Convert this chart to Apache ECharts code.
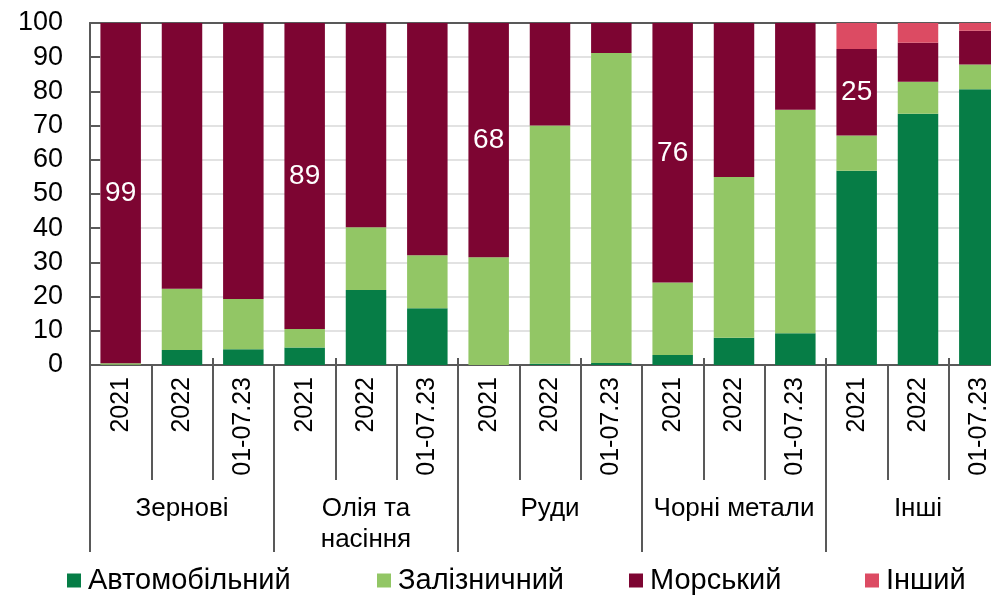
<!DOCTYPE html>
<html>
<head>
<meta charset="utf-8">
<script src="https://cdn.jsdelivr.net/npm/echarts@6/dist/echarts.min.js"></script>
<style>
  html, body { margin: 0; padding: 0; background: #fff; }
  #chart { width: 991px; height: 595px; }
</style>
</head>
<body>
<div id="chart"></div>
<script>
// periods per bar and the cargo groups below them
const periods = ['2021', '2022', '01-07.23', '2021', '2022', '01-07.23', '2021', '2022', '01-07.23',
  '2021', '2022', '01-07.23', '2021', '2022', '01-07.23']
const groups = ['Зернові', 'Олія та\nнасіння', 'Руди', 'Чорні метали', 'Інші']
const yTicks = [0, 10, 20, 30, 40, 50, 60, 70, 80, 90, 100]

// shares by transport type, %
const auto = [0.1, 4.4, 4.6, 5.1, 21.9, 16.6, 0, 0.4, 0.6, 2.9, 8.0, 9.3, 56.8, 73.5, 80.6]
const rail = [0.4, 17.9, 14.7, 5.4, 18.4, 15.5, 31.5, 69.6, 90.6, 21.2, 47.0, 65.3, 10.3, 9.3, 7.3]
const sea = [99.5, 77.7, 80.7, 89.5, 59.7, 67.9, 68.5, 30.0, 8.8, 75.9, 45.0, 25.4, 25.3, 11.4, 9.8]
const other = [0, 0, 0, 0, 0, 0, 0, 0, 0, 0, 0, 0, 7.6, 5.8, 2.3]
const seaLabels = [99, null, null, 89, null, null, 68, null, null, 76, null, null, 25, null, null]

const names = ['Автомобільний', 'Залізничний', 'Морський', 'Інший']
const colors = ['#067D46', '#92C665', '#7D0532', '#DC4B63']

const font = 'Liberation Sans, Arial, sans-serif'
const axisColor = '#595959'

const chart = echarts.init(document.getElementById('chart'), null, { renderer: 'canvas' })

const legendLeft = [67, 377, 629, 865]

function makeSeries(i, data) {
  const s = {
    name: names[i],
    type: 'bar',
    stack: 'total',
    xAxisIndex: 0,
    barCategoryGap: '34%',
    itemStyle: { color: colors[i] },
    data: data,
    animation: false
  }
  if (i === 2) {
    s.label = {
      show: true,
      position: 'inside',
      color: '#fff',
      fontFamily: font,
      fontSize: 28,
      formatter: p => (seaLabels[p.dataIndex] == null ? '' : String(seaLabels[p.dataIndex]))
    }
  }
  return s
}

chart.setOption({
  animation: false,
  textStyle: { fontFamily: font },
  grid: { left: 90, top: 23, width: 920, height: 342, containLabel: false, outerBoundsMode: 'none' },
  legend: names.map((n, i) => ({
    data: [n],
    left: legendLeft[i],
    top: 566,
    icon: 'rect',
    itemWidth: 14,
    itemHeight: 14,
    itemGap: 0,
    padding: 0,
    textStyle: { fontFamily: font, fontSize: 29, color: '#000', padding: [0, 0, 0, 2] },
    selectedMode: false
  })),
  xAxis: [
    {
      type: 'category',
      data: periods,
      position: 'bottom',
      axisLine: { lineStyle: { color: axisColor, width: 2 } },
      axisTick: { show: true, length: 115, lineStyle: { color: axisColor, width: 2 } },
      axisLabel: {
        interval: 0,
        rotate: 90,
        margin: 12,
        fontSize: 25,
        color: '#000',
        fontFamily: font
      }
    },
    {
      type: 'category',
      data: groups,
      position: 'bottom',
      offset: 115,
      axisLine: { show: false },
      axisTick: { show: true, length: 72, lineStyle: { color: axisColor, width: 2 } },
      axisLabel: {
        interval: 0,
        margin: 13,
        fontSize: 26,
        lineHeight: 31,
        color: '#000',
        fontFamily: font
      }
    },
    {
      type: 'category',
      data: periods,
      position: 'bottom',
      axisLine: { show: false },
      axisTick: { show: true, inside: true, length: 7, lineStyle: { color: axisColor, width: 2 } },
      axisLabel: { show: false }
    },
    {
      type: 'category',
      data: periods,
      position: 'top',
      axisLine: { lineStyle: { color: axisColor, width: 2 } },
      axisTick: { show: false },
      axisLabel: { show: false }
    }
  ],
  yAxis: {
    type: 'value',
    min: yTicks[0],
    max: yTicks[yTicks.length - 1],
    interval: 10,
    axisLine: { show: true, lineStyle: { color: axisColor, width: 2 } },
    axisTick: { show: true, inside: true, length: 10, lineStyle: { color: axisColor, width: 2 } },
    axisLabel: { margin: 27, fontSize: 27, color: '#000', fontFamily: font },
    splitLine: { lineStyle: { color: '#D9D9D9', width: 1.5 } }
  },
  series: [
    makeSeries(0, auto),
    makeSeries(1, rail),
    makeSeries(2, sea),
    makeSeries(3, other)
  ]
})
</script>
</body>
</html>
